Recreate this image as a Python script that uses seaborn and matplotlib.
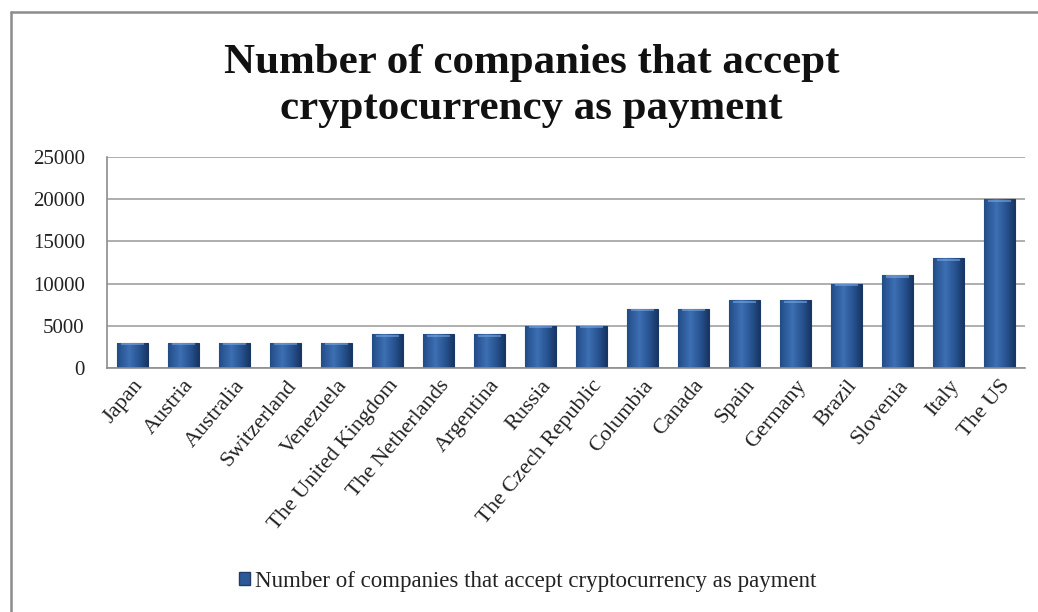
import numpy as np
import pandas as pd
import matplotlib
matplotlib.use("Agg")
import matplotlib.pyplot as plt
import seaborn as sns
from matplotlib.patches import Rectangle
from matplotlib.lines import Line2D

countries = ["Japan", "Austria", "Australia", "Switzerland", "Venezuela",
             "The United Kingdom", "The Netherlands", "Argentina", "Russia",
             "The Czech Republic", "Columbia", "Canada", "Spain", "Germany",
             "Brazil", "Slovenia", "Italy", "The US"]
companies = [3000, 3000, 3000, 3000, 3000, 4000, 4000, 4000, 5000, 5000,
             7000, 7000, 8000, 8000, 10000, 11000, 13000, 20000]
yticks = [0, 5000, 10000, 15000, 20000, 25000]
series_name = "Number of companies that accept cryptocurrency as payment"
title = "Number of companies that accept\ncryptocurrency as payment"

sns.set_theme(style="white")
plt.rcParams['font.family'] = ['Liberation Serif', 'DejaVu Serif']

df = pd.DataFrame({"country": countries, "value": companies})

fig = plt.figure(figsize=(10.38, 6.12), dpi=100)
ax = fig.add_axes([107/1038, 1-368/612, (1025-107)/1038, (368-157)/612])

sns.barplot(data=df, x="country", y="value", color="#2A5593", width=0.59,
            edgecolor="#1A3866", linewidth=0.8, ax=ax, saturation=1)

# gradient shading on bars (cylinder-like)
grad = np.linspace(0, 1, 64)
shade = 1 - 0.6 * np.abs(grad - 0.4)
cmap = matplotlib.colors.LinearSegmentedColormap.from_list(
    "b", ["#132F5A", "#27528F", "#3D6FB3"])
for p in ax.patches:
    x0, y0 = p.get_x(), p.get_y()
    w, h = p.get_width(), p.get_height()
    img = ax.imshow(shade[np.newaxis, :], extent=[x0, x0 + w, y0, y0 + h],
                    aspect="auto", cmap=cmap, vmin=0.6, vmax=1,
                    zorder=p.get_zorder() + 0.1)
    img.set_clip_path(p)
    cap = Rectangle((x0 + w * 0.12, y0 + h - 300), w * 0.76, 260,
                    facecolor="#7FAEE6", edgecolor="none", alpha=0.55,
                    zorder=p.get_zorder() + 0.2)
    ax.add_patch(cap)

ax.set_xlim(-0.5, len(countries) - 0.5)
ax.set_ylim(0, 25000)
ax.set_yticks(yticks)
ax.set_yticklabels([str(v) for v in yticks], fontsize=15)
ax.yaxis.grid(True, color="#A8A8A8", linewidth=1.3)
ax.set_axisbelow(True)
for s in ["top", "right"]:
    ax.spines[s].set_visible(False)
ax.spines["left"].set_color("#8C8C8C")
ax.spines["bottom"].set_color("#8C8C8C")
ax.spines["left"].set_linewidth(1.2)
ax.spines["bottom"].set_linewidth(1.2)
ax.set_xlabel("")
ax.set_ylabel("")
ax.tick_params(axis="y", length=0, pad=16)
ax.tick_params(axis="x", length=0, pad=6)
ax.set_xticks(range(len(countries)))
ax.set_xticklabels(countries, rotation=50, ha="right", rotation_mode="anchor",
                   fontsize=16)
for t in ax.get_yticklabels() + ax.get_xticklabels():
    t.set_color("#222222")

fig.text(0.512, 1 - 86/612, title, ha="center", va="center", fontsize=31,
         fontweight="bold", linespacing=1.3, color="#111111")

handles = [Rectangle((0, 0), 1, 1, facecolor="#2D5A97", edgecolor="#1E3D6B")]
fig.legend(handles, [series_name], loc="center", bbox_to_anchor=(0.508, 1 - 581/612),
           frameon=False, fontsize=16.5, handlelength=0.5, handleheight=0.5,
           handletextpad=0.2, labelcolor="#222222")

fig.lines.append(Line2D([11/1038, 1], [1 - 12/612, 1 - 12/612],
                        transform=fig.transFigure, color="#8C8C8C", linewidth=1.8))
fig.lines.append(Line2D([11/1038, 11/1038], [0, 1 - 12/612],
                        transform=fig.transFigure, color="#8C8C8C", linewidth=1.8))

fig.savefig("out.png", dpi=100)
